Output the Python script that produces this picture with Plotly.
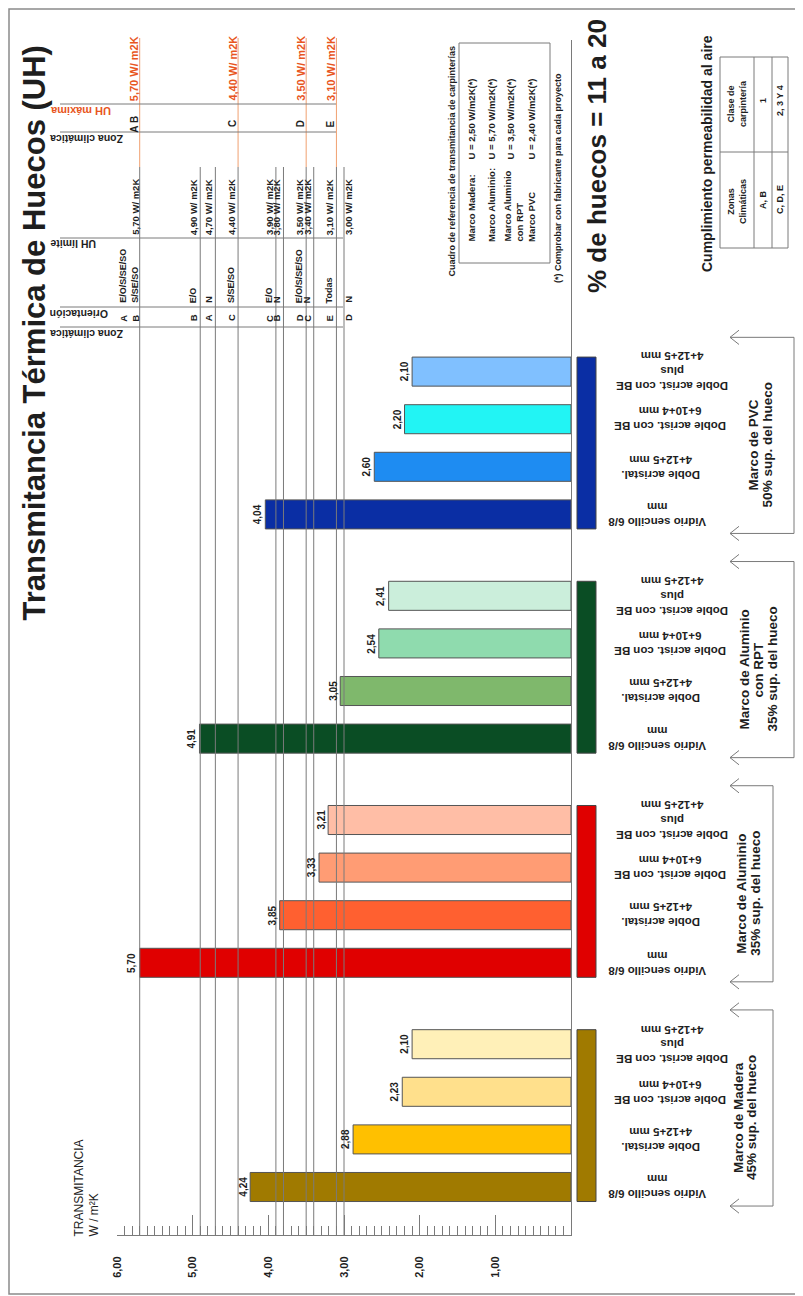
import plotly.graph_objects as go

# values (U in W/m2K)
glazing = ["Vidrio sencillo 6/8<br>mm",
           "Doble acristal.<br>4+12+5 mm",
           "Doble acrist. con BE<br>6+10+4 mm",
           "Doble acrist. con BE<br>plus<br>4+12+5 mm"]

u_madera = [4.24, 2.88, 2.23, 2.10]
u_aluminio = [5.70, 3.85, 3.33, 3.21]
u_rpt = [4.91, 3.05, 2.54, 2.41]
u_pvc = [4.04, 2.60, 2.20, 2.10]

frame_titles = [["Marco de Madera", "45% sup. del hueco"],
                ["Marco de Aluminio", "35% sup. del hueco"],
                ["Marco de Aluminio", "con RPT", "35% sup. del hueco"],
                ["Marco de PVC", "50% sup. del hueco"]]

c_madera = ["#A07A00", "#FFC000", "#FFE08C", "#FFF0B8"]
c_aluminio = ["#E00000", "#FF6030", "#FF9C74", "#FFBEA6"]
c_rpt = ["#0A4D24", "#7FB86C", "#8FDBAE", "#CBEEDB"]
c_pvc = ["#0A2EA4", "#1E8CF2", "#22F4F4", "#80C0FF"]

# UH limite: zona climatica / orientacion / valor
lim_zona = ["A", "B", "B", "A", "C", "C", "B", "D", "C", "E", "D"]
lim_orient = ["E/O/S/SE/SO", "S/SE/SO", "E/O", "N", "S/SE/SO", "E/O", "N",
              "E/O/S/SE/SO", "N", "Todas", "N"]
lim_uh = [5.70, 5.70, 4.90, 4.70, 4.40, 3.90, 3.80, 3.50, 3.40, 3.10, 3.00]

# UH maxima per zona climatica
max_zona = ["A B", "C", "D", "E"]
max_uh = [5.70, 4.40, 3.50, 3.10]

ref_marco = ["Marco Madera:", "Marco Aluminio:", "Marco Aluminio<br>con RPT", "Marco PVC"]
ref_u = [2.50, 5.70, 3.50, 2.40]

perm_zonas = ["A, B", "C, D, E"]
perm_clase = ["1", "2, 3 Y 4"]

value_ticks = [1, 2, 3, 4, 5, 6]

# ---- layout helpers (page pixels of the 803x1296 window) ----
W, H = 803, 1296
OFF = 8              # default body margin of the page
PL, PR, PT, PB = 117, 571, 40, 1235   # plot area in page pixels
PW, PH = PR - PL, PB - PT
UNIT = 47.6          # px per bar slot
Y0 = 1187            # pixel row of y = 0
GSTEP = 4.71
BAR_W = 0.61
FONT = "Liberation Sans, Arial, sans-serif"
INK = "#1e1e1e"
GRID = "#7a7a7a"
ORANGE = "#E8561E"


def fmt(v):
    return f"{v:.2f}".replace(".", ",")


def px(x):
    return (x - PL) / PW


def py(y):
    return (PB - y) / PH


def uy(y):
    return (Y0 - y) / UNIT


shapes = []
annos = []


def note(text, x, y, size=10, angle=-90, color=INK, bold=True, xref="paper", yref="paper",
         xanchor="center", yanchor="middle", align="center", xshift=0):
    annos.append(dict(text=text, x=x, y=y, xref=xref, yref=yref, textangle=angle,
                      showarrow=False, xanchor=xanchor, yanchor=yanchor, align=align,
                      xshift=xshift, borderpad=0, borderwidth=0,
                      font=dict(family=FONT, size=size, color=color,
                                weight="bold" if bold else "normal")))


def line(x0, y0, x1, y1, color=GRID, width=1, xref="paper", yref="paper"):
    shapes.append(dict(type="line", x0=x0, y0=y0, x1=x1, y1=y1, xref=xref, yref=yref,
                       line=dict(color=color, width=width), layer="above"))


fig = go.Figure()

series = [u_madera, u_aluminio, u_rpt, u_pvc]
colors = [c_madera, c_aluminio, c_rpt, c_pvc]
label_x = [657, 661, 670, 672]
bracket_x = [773, 773, 794, 794]
title_x = [[739, 752], [742, 756], [745, 759, 773], [753, 767]]

for g, (vals, cols) in enumerate(zip(series, colors)):
    base = g * GSTEP
    ys = [base + i for i in range(len(vals))]
    fig.add_bar(x=vals, y=ys, orientation="h", width=BAR_W,
                marker=dict(color=cols, line=dict(color="#555555", width=1)),
                hoverinfo="skip", showlegend=False)
    for v, y in zip(vals, ys):
        note(fmt(v), v, y, size=10, xref="x", yref="y", xanchor="right", xshift=-2)
    for i, y in enumerate(ys):
        note(glazing[i], px(label_x[i]), y, size=11.5, angle=180, yref="y")
    # frame colour strip
    shapes.append(dict(type="rect", xref="paper", yref="y", x0=px(577), x1=px(596),
                       y0=base - BAR_W / 2, y1=base + 3 + BAR_W / 2,
                       fillcolor=cols[0], line=dict(color="#444444", width=1), layer="above"))
    # bracket with arrows
    bx = bracket_x[g]
    ytop, ybot = base + 3.72, base - 0.4
    shapes.append(dict(type="path", xref="paper", yref="y",
                       path=f"M {px(730)},{ytop} L {px(bx)},{ytop} L {px(bx)},{ybot} L {px(730)},{ybot}",
                       line=dict(color=GRID, width=1)))
    for ya in (ytop, ybot):
        shapes.append(dict(type="path", xref="paper", yref="y",
                           path=f"M {px(739)},{ya + 0.15} L {px(730)},{ya} L {px(739)},{ya - 0.15}",
                           line=dict(color=GRID, width=1)))
    for t, tx in zip(frame_titles[g], title_x[g]):
        note(t, px(tx), base + 1.45, size=13.5, yref="y")

# ---- UH limite / UH maxima table ----
for v in sorted(set(lim_uh)):
    line(v, 0, v, py(167), xref="x")
for v in max_uh:
    line(v, py(167), v, py(38), color="#F0A070", xref="x")

for yy, x1 in [(104, 336), (132, 336), (238, 343), (307, 343), (327, 343)]:
    line(px(60), py(yy), px(x1), py(yy))

for k, (z, o, v) in enumerate(zip(lim_zona, lim_orient, lim_uh)):
    if lim_uh.count(v) > 1:
        sh = -17 if lim_uh.index(v) == k else -5
    elif v == min(lim_uh):
        sh = 4
    else:
        sh = -7
    note(z, v, py(318), size=9.5, xref="x", xshift=sh)
    note(o, v, py(303), size=9, xref="x", yanchor="bottom", xshift=sh)
    if lim_uh.index(v) == k and lim_uh.count(v) > 1:
        continue
    note(fmt(v) + " W/ m2K", v, py(235), size=9.5, xref="x", yanchor="bottom", xshift=sh)

for z, v in zip(max_zona, max_uh):
    note(z, v, py(124), size=10, xref="x", xshift=-6)
    note(fmt(v) + " W/ m2K", v, py(101), size=11, color=ORANGE, xref="x",
         yanchor="bottom", xshift=-6)

note("UH máxima", px(50), py(111), size=11, angle=180, color=ORANGE, xanchor="left")
note("Zona climática", px(50), py(139), size=10.5, angle=180, xanchor="left")
note("UH límite", px(50), py(244), size=10.5, angle=180, xanchor="left")
note("Orientación", px(50), py(314), size=10.5, angle=180, xanchor="left")
note("Zona climática", px(50), py(334), size=10.5, angle=180, xanchor="left")

# titles
note("Transmitancia Térmica de Huecos (UH)", px(34), py(621), size=31, yanchor="bottom")
note("TRANSMITANCIA<br>W / m²K", px(86), py(1237), size=12, bold=False,
     yanchor="bottom", align="left")

# reference box
note("Cuadro de referencia de transmitancia de carpinterías", px(451), py(277), size=9,
     yanchor="bottom")
shapes.append(dict(type="rect", xref="paper", yref="paper", x0=px(459), x1=px(550),
                   y0=py(263), y1=py(43), line=dict(color=GRID, width=1)))
for m, u, xm in zip(ref_marco, ref_u, [471, 491, 513, 531]):
    note(m, px(xm), py(242), size=9.5, yanchor="bottom", align="left")
    note("U = " + fmt(u) + " W/m2K(*)", px(xm if "<br>" not in m else 510), py(160),
         size=9.5, yanchor="bottom")
note("(*) Comprobar con fabricante para cada proyecto", px(558), py(283), size=9,
     yanchor="bottom")

note("% de huecos = 11 a 20", px(597), py(156), size=26)

# air permeability table
note("Cumplimiento permeabilidad al aire", px(707), py(154), size=14)
shapes.append(dict(type="rect", xref="paper", yref="paper", x0=px(720), x1=px(788),
                   y0=py(248), y1=py(57), line=dict(color=GRID, width=1)))
line(px(754), py(248), px(754), py(57))
line(px(772), py(248), px(772), py(57))
line(px(720), py(152), px(788), py(152))
note("Zonas<br>Climáticas", px(737), py(202), size=9)
note("Clase de<br>carpintería", px(737), py(104), size=9)
for zz, cc, xr in zip(perm_zonas, perm_clase, [763, 780]):
    note(zz, px(xr), py(200), size=9)
    note(cc, px(xr), py(101), size=9)

# page frame
shapes.append(dict(type="rect", xref="paper", yref="paper", x0=px(9), x1=px(800),
                   y0=py(1294), y1=py(9), line=dict(color="#8a8a8a", width=1.5)))

fig.update_layout(
    width=W - OFF, height=H - OFF,
    margin=dict(l=PL - OFF, r=W - PR, t=PT - OFF, b=H - PB),
    paper_bgcolor="white", plot_bgcolor="white",
    showlegend=False,
    shapes=shapes, annotations=annos,
    xaxis=dict(range=[6, 0], tickmode="array", tickvals=value_ticks,
               ticktext=[fmt(v) for v in value_ticks], tickangle=-90,
               ticks="inside", ticklen=20, tickcolor=GRID, tickwidth=1,
               minor=dict(tickmode="linear", tick0=0, dtick=0.1, ticks="inside",
                          ticklen=9, tickcolor=GRID, tickwidth=1),
               showline=True, linecolor=GRID, linewidth=1, showgrid=False,
               zeroline=False, ticklabelstandoff=16,
               tickfont=dict(family=FONT, size=11, color=INK, weight="bold")),
    yaxis=dict(range=[uy(PB), uy(PT)], side="right", showline=True, linecolor=GRID,
               linewidth=1, showticklabels=False, ticks="", showgrid=False, zeroline=False),
)

fig.write_html("out.html")
